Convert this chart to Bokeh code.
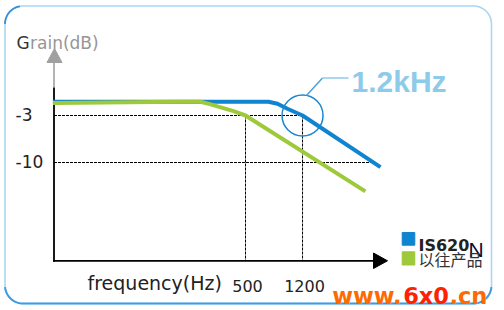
import numpy as np
from bokeh.plotting import figure
from bokeh.models import Range1d, LinearScale
from bokeh.core.properties import value
from bokeh.embed import file_html
from bokeh.resources import INLINE

# ---------------- data ----------------
freq_is620n = [26, 711, 817, 952, 1111, 1200, 3970]
gain_is620n = [-0.95, -0.95, -1.26, -2.0, -2.66, -3.0, -10.7]
freq_prev = [26, 180, 250, 290, 325, 416, 500, 3150]
gain_prev = [-1.15, -0.95, -0.95, -1.3, -1.65, -2.35, -3.0, -14.3]
series_names = ["IS620", "以往产品"]
series_colors = ["#0f84d0", "#9dc93a"]
x_tick_values = [500, 1200]
x_tick_labels = ["500", "1200"]
y_tick_values = [-3, -10]
y_tick_labels = ["-3", "-10"]
cutoff_hz = 1200
cutoff_label = "1.2kHz"
x_title = "frequency(Hz)"
y_title_first = "G"
y_title_rest = "rain(dB)"
watermark = ["www.", "6x0", ".cn"]

W, H = 504, 310
# pixel mapping of the reference (layout)
X0PX, XPD = 245.0, 150.0      # px of 500 Hz, px per decade
Y3PX, YPDB = 115.0, 47.0 / 7  # px of -3 dB, px per dB


def db_at(py):
    return -3 - (py - Y3PX) / YPDB


def hz_at(px):
    return 500 * 10 ** ((px - X0PX) / XPD)


p = figure(width=W, height=H, x_axis_type="log",
           x_range=Range1d(hz_at(0), hz_at(W)),
           y_range=Range1d(db_at(H), db_at(0)),
           x_axis_location=None, y_axis_location=None,
           toolbar_location=None, output_backend="svg",
           min_border=0, outline_line_color=None,
           background_fill_color="white", border_fill_color="white")
p.xgrid.grid_line_color = None
p.ygrid.grid_line_color = None
p.extra_x_ranges = {"px": Range1d(0, W)}
p.extra_x_scales = {"px": LinearScale()}
p.extra_y_ranges = {"py": Range1d(H, 0)}
p.extra_y_scales = {"py": LinearScale()}
PX = dict(x_range_name="px", y_range_name="py")

# ---------------- frame with rounded corners ----------------
L, R, T, B, RAD = 4.5, 491, 5.5, 303, 18


def arc(cx, cy, a0, a1, n=20):
    t = np.radians(np.linspace(a0, a1, n))
    return list(cx + RAD * np.cos(t)), list(cy - RAD * np.sin(t))


segs = [arc(R - RAD, T + RAD, 0, 90), arc(L + RAD, T + RAD, 90, 180),
        arc(L + RAD, B - RAD, 180, 270), arc(R - RAD, B - RAD, 270, 360)]
fx, fy = [], []
for sx, sy in segs:
    fx += sx
    fy += sy
fx.append(fx[0]); fy.append(fy[0])
p.line(fx, fy, line_color="#aad6f1", line_width=1.6, **PX)
ax, ay = arc(L + RAD, T + RAD, 100, 180)
p.line(ax, ay, line_color="#3a8fd8", line_width=1.8, **PX)
bx1, by1 = arc(L + RAD, B - RAD, 185, 270)
bx2, by2 = arc(R - RAD, B - RAD, 270, 355)
p.line(bx1 + bx2, by1 + by2, line_color="#3d9de0", line_width=2, **PX)

# ---------------- axes ----------------
ox, oy = 53.5, 260.3
p.line([ox, ox], [62, 87], line_color="#a0a0a0", line_width=1.6, **PX)
p.patch([46.5, 61.5, 54], [62, 62, 48], color="#a0a0a0", **PX)
p.line([ox, ox], [87, oy + 1], line_color="black", line_width=1.8, **PX)
p.line([ox - 1, 375], [oy, oy], line_color="black", line_width=1.8, **PX)
p.patch([373, 373, 387], [252.5, 268, 260.3], color="black", **PX)

# ---------------- dashed guides ----------------
f_start = hz_at(ox)
db_floor = db_at(oy)
lf = np.log10(freq_is620n)
g = np.array(gain_is620n)
cross10 = 10 ** np.interp(-10, g[::-1], lf[::-1])
guide_kw = dict(line_color="black", line_width=1, line_dash="3 1")
p.line([f_start, cutoff_hz], [y_tick_values[0]] * 2, **guide_kw)
p.line([f_start, cross10], [y_tick_values[1]] * 2, **guide_kw)
for xv in x_tick_values:
    p.line([xv, xv], [y_tick_values[0], db_floor], **guide_kw)

# ---------------- curves ----------------
p.line(freq_is620n, gain_is620n, line_color=series_colors[0], line_width=4)
p.line(freq_prev, gain_prev, line_color=series_colors[1], line_width=4)

# ---------------- callout ----------------
p.scatter([cutoff_hz], [-3], marker="circle", size=41, fill_color=None,
          line_color="#1a86d0", line_width=1.5)
p.line([306, 322], [95, 77.5], line_color="#4aa2dc", line_width=1.5, **PX)
p.line([322, 348], [77.5, 77.5], line_color="#8fcbea", line_width=1.5, **PX)
p.text([351], [81], text=[cutoff_label], text_font=value("Liberation Sans"),
       text_font_style="bold", text_font_size="30px", text_color="#8ecbea",
       text_baseline="alphabetic", **PX)

# ---------------- labels ----------------
font = value("DejaVu Sans")
p.text([16], [42.5], text=[y_title_first], text_font=font, text_font_size="17px",
       text_color="#333333", text_baseline="alphabetic", **PX)
p.text([29.5], [42.5], text=[y_title_rest], text_font=font, text_font_size="17px",
       text_color="#969696", text_baseline="alphabetic", **PX)
p.text([15] * 2, y_tick_values, text=y_tick_labels, text_font=font,
       text_font_size="17px", text_color="#222222", text_baseline="middle",
       x_range_name="px", y_offset=-1.5)
p.text(x_tick_values, [285] * 2, text=x_tick_labels, text_font=font,
       text_font_size="16px", text_color="#222222", text_align="center",
       text_baseline="alphabetic", y_range_name="py", x_offset=2)
p.text([87], [282.7], text=[x_title], text_font=font, text_font_size="19px",
       text_color="#222222", text_baseline="alphabetic", **PX)

# ---------------- legend ----------------
p.quad(left=[401.7] * 2, right=[414.3] * 2, top=[232, 251.3], bottom=[244.7, 264.5],
       color=series_colors, **PX)
p.text([418], [245], text=[series_names[0]], text_font=value("DejaVu Sans"),
       text_font_style="bold", text_font_size="16px", text_color="#222222",
       text_baseline="alphabetic", **PX)
p.text([468], [248.5], text=["N"], text_font=value("Liberation Sans"),
       text_font_size="21px", text_color="#0a0a30", text_baseline="alphabetic", **PX)
p.text([418], [258.5], text=[series_names[1]], text_font=value("Noto Sans CJK SC"),
       text_font_size="16px", text_color="#333333", text_baseline="middle", **PX)

# ---------------- watermark ----------------
p.text([331.7, 402.7, 448.9], [295] * 3, text=watermark,
       text_font=value("DejaVu Sans"), text_font_style="bold",
       text_font_size="22.5px", text_color=["#ff6a00", "#ff2200", "#ff6a00"],
       text_baseline="alphabetic", **PX)

open("out.html", "w").write(file_html(p, INLINE))
